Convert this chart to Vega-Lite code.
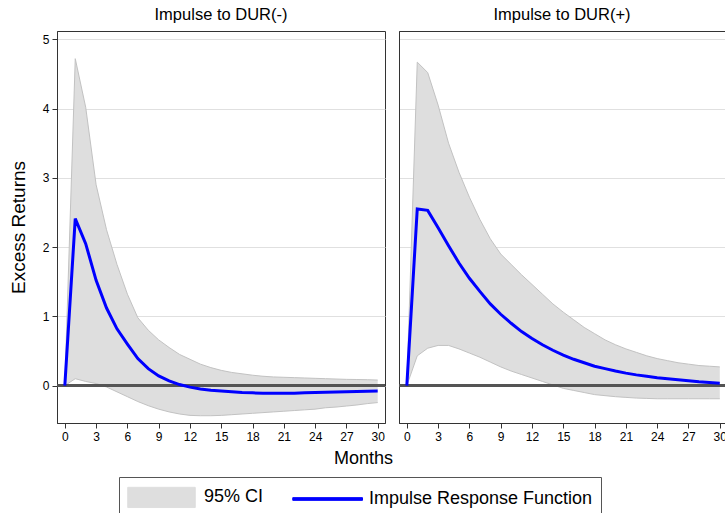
{
  "$schema": "https://vega.github.io/schema/vega-lite/v6.json",
  "padding": {"left": 8, "top": 6, "right": 1, "bottom": 0},
  "bounds": "flush",
  "config": {
    "font": "Liberation Sans",
    "view": {"stroke": "#333333", "strokeWidth": 1},
    "axis": {
      "domainColor": "#333333", "tickColor": "#333333", "tickSize": 5,
      "labelFontSize": 12, "labelColor": "#000000", "labelPadding": 3,
      "labelOverlap": false, "labelFlush": false, "format": "d",
      "titleFontSize": 18, "titleFontWeight": "normal", "titleColor": "#000000",
      "gridColor": "#e0e0e0", "gridWidth": 1
    },
    "legend": {
      "title": null, "orient": "none", "direction": "horizontal",
      "legendX": 62, "legendY": 446,
      "strokeColor": "#555555", "fillColor": "#ffffff", "padding": 8,
      "labelFontSize": 18, "labelColor": "#000000", "labelOffset": 53, "labelLimit": 400,
      "columnPadding": 26, "symbolSize": 506, "symbolOpacity": 1, "symbolStrokeWidth": 1,
      "symbolType": {"expr": "datum.value === '95% CI' ? 'M-1,-0.9H5V0.9H-1Z' : 'M-1,-0.12H5.2V0.12H-1Z'"},
      "symbolStrokeColor": {"expr": "datum.value === '95% CI' ? '#bdbdbd' : '#0000ff'"}
    },
    "title": {"fontSize": 16.5, "fontWeight": "normal", "color": "#000000", "offset": 8}
  },
  "datasets": {
    "irf": [
      {"panel": "neg", "m": 0, "irf": 0, "lo": 0, "hi": 0},
      {"panel": "neg", "m": 1, "irf": 2.41, "lo": 0.10, "hi": 4.72},
      {"panel": "neg", "m": 2, "irf": 2.05, "lo": 0.06, "hi": 4.02},
      {"panel": "neg", "m": 3, "irf": 1.52, "lo": 0.03, "hi": 2.9},
      {"panel": "neg", "m": 4, "irf": 1.12, "lo": -0.02, "hi": 2.25},
      {"panel": "neg", "m": 5, "irf": 0.82, "lo": -0.09, "hi": 1.75},
      {"panel": "neg", "m": 6, "irf": 0.60, "lo": -0.16, "hi": 1.32},
      {"panel": "neg", "m": 7, "irf": 0.39, "lo": -0.23, "hi": 0.98},
      {"panel": "neg", "m": 8, "irf": 0.245, "lo": -0.29, "hi": 0.80},
      {"panel": "neg", "m": 9, "irf": 0.14, "lo": -0.34, "hi": 0.66},
      {"panel": "neg", "m": 10, "irf": 0.067, "lo": -0.38, "hi": 0.55},
      {"panel": "neg", "m": 11, "irf": 0.015, "lo": -0.41, "hi": 0.45},
      {"panel": "neg", "m": 12, "irf": -0.022, "lo": -0.43, "hi": 0.38},
      {"panel": "neg", "m": 13, "irf": -0.048, "lo": -0.435, "hi": 0.31},
      {"panel": "neg", "m": 14, "irf": -0.066, "lo": -0.435, "hi": 0.26},
      {"panel": "neg", "m": 15, "irf": -0.079, "lo": -0.43, "hi": 0.22},
      {"panel": "neg", "m": 16, "irf": -0.09, "lo": -0.42, "hi": 0.19},
      {"panel": "neg", "m": 17, "irf": -0.10, "lo": -0.41, "hi": 0.17},
      {"panel": "neg", "m": 18, "irf": -0.105, "lo": -0.40, "hi": 0.15},
      {"panel": "neg", "m": 19, "irf": -0.11, "lo": -0.39, "hi": 0.135},
      {"panel": "neg", "m": 20, "irf": -0.11, "lo": -0.38, "hi": 0.125},
      {"panel": "neg", "m": 21, "irf": -0.11, "lo": -0.37, "hi": 0.12},
      {"panel": "neg", "m": 22, "irf": -0.11, "lo": -0.36, "hi": 0.115},
      {"panel": "neg", "m": 23, "irf": -0.105, "lo": -0.35, "hi": 0.11},
      {"panel": "neg", "m": 24, "irf": -0.10, "lo": -0.34, "hi": 0.105},
      {"panel": "neg", "m": 25, "irf": -0.097, "lo": -0.32, "hi": 0.10},
      {"panel": "neg", "m": 26, "irf": -0.094, "lo": -0.31, "hi": 0.095},
      {"panel": "neg", "m": 27, "irf": -0.09, "lo": -0.295, "hi": 0.09},
      {"panel": "neg", "m": 28, "irf": -0.085, "lo": -0.28, "hi": 0.088},
      {"panel": "neg", "m": 29, "irf": -0.08, "lo": -0.26, "hi": 0.085},
      {"panel": "neg", "m": 30, "irf": -0.077, "lo": -0.245, "hi": 0.08},
      {"panel": "pos", "m": 0, "irf": 0, "lo": 0, "hi": 0},
      {"panel": "pos", "m": 1, "irf": 2.55, "lo": 0.43, "hi": 4.67},
      {"panel": "pos", "m": 2, "irf": 2.53, "lo": 0.54, "hi": 4.52},
      {"panel": "pos", "m": 3, "irf": 2.28, "lo": 0.58, "hi": 4.05},
      {"panel": "pos", "m": 4, "irf": 2.02, "lo": 0.58, "hi": 3.5},
      {"panel": "pos", "m": 5, "irf": 1.77, "lo": 0.53, "hi": 3.08},
      {"panel": "pos", "m": 6, "irf": 1.55, "lo": 0.47, "hi": 2.72},
      {"panel": "pos", "m": 7, "irf": 1.36, "lo": 0.41, "hi": 2.4},
      {"panel": "pos", "m": 8, "irf": 1.18, "lo": 0.34, "hi": 2.12},
      {"panel": "pos", "m": 9, "irf": 1.03, "lo": 0.27, "hi": 1.9},
      {"panel": "pos", "m": 10, "irf": 0.9, "lo": 0.21, "hi": 1.75},
      {"panel": "pos", "m": 11, "irf": 0.78, "lo": 0.16, "hi": 1.6},
      {"panel": "pos", "m": 12, "irf": 0.68, "lo": 0.11, "hi": 1.46},
      {"panel": "pos", "m": 13, "irf": 0.59, "lo": 0.06, "hi": 1.32},
      {"panel": "pos", "m": 14, "irf": 0.51, "lo": 0.01, "hi": 1.18},
      {"panel": "pos", "m": 15, "irf": 0.44, "lo": -0.04, "hi": 1.06},
      {"panel": "pos", "m": 16, "irf": 0.38, "lo": -0.07, "hi": 0.95},
      {"panel": "pos", "m": 17, "irf": 0.33, "lo": -0.10, "hi": 0.84},
      {"panel": "pos", "m": 18, "irf": 0.28, "lo": -0.13, "hi": 0.75},
      {"panel": "pos", "m": 19, "irf": 0.245, "lo": -0.145, "hi": 0.66},
      {"panel": "pos", "m": 20, "irf": 0.21, "lo": -0.16, "hi": 0.59},
      {"panel": "pos", "m": 21, "irf": 0.18, "lo": -0.17, "hi": 0.53},
      {"panel": "pos", "m": 22, "irf": 0.155, "lo": -0.18, "hi": 0.48},
      {"panel": "pos", "m": 23, "irf": 0.135, "lo": -0.185, "hi": 0.43},
      {"panel": "pos", "m": 24, "irf": 0.115, "lo": -0.19, "hi": 0.39},
      {"panel": "pos", "m": 25, "irf": 0.10, "lo": -0.19, "hi": 0.36},
      {"panel": "pos", "m": 26, "irf": 0.085, "lo": -0.19, "hi": 0.33},
      {"panel": "pos", "m": 27, "irf": 0.07, "lo": -0.19, "hi": 0.31},
      {"panel": "pos", "m": 28, "irf": 0.055, "lo": -0.19, "hi": 0.29},
      {"panel": "pos", "m": 29, "irf": 0.045, "lo": -0.19, "hi": 0.28},
      {"panel": "pos", "m": 30, "irf": 0.035, "lo": -0.19, "hi": 0.27}
    ]
  },
  "spacing": 14,
  "resolve": {"scale": {"color": "shared"}, "legend": {"color": "shared"}},
  "hconcat": [
    {
      "width": 328, "height": 392,
      "title": {"text": "Impulse to DUR(-)"},
      "data": {"name": "irf"},
      "transform": [{"filter": "datum.panel === 'neg'"}],
      "layer": [
        {
          "mark": {"type": "area"},
          "encoding": {
            "x": {"field": "m", "type": "quantitative", "scale": {"domain": [-0.75, 30.7], "nice": false, "zero": false},
                  "axis": {"values": [0, 3, 6, 9, 12, 15, 18, 21, 24, 27, 30], "labelOverlap": false, "grid": false, "title": "Months", "titleX": 306, "titlePadding": 7}},
            "y": {"field": "lo", "type": "quantitative", "scale": {"domain": [-0.54, 5.12], "nice": false, "zero": false},
                  "axis": {"values": [0, 1, 2, 3, 4, 5], "grid": true, "title": "Excess Returns", "titlePadding": 14, "titleFontSize": 19}},
            "y2": {"field": "hi"},
            "color": {
              "datum": "95% CI",
              "scale": {"domain": ["95% CI", "Impulse Response Function"], "range": ["#dedede", "#0000ff"]}
            }
          }
        },
        {
          "mark": {"type": "line", "stroke": "#c2c2c2", "strokeWidth": 1},
          "encoding": {
            "x": {"field": "m", "type": "quantitative", "axis": {"values": [0, 3, 6, 9, 12, 15, 18, 21, 24, 27, 30], "labelOverlap": false, "grid": false, "title": "Months", "titleX": 306, "titlePadding": 7}},
            "y": {"field": "lo", "type": "quantitative"}
          }
        },
        {
          "mark": {"type": "line", "stroke": "#c2c2c2", "strokeWidth": 1},
          "encoding": {
            "x": {"field": "m", "type": "quantitative", "axis": {"values": [0, 3, 6, 9, 12, 15, 18, 21, 24, 27, 30], "labelOverlap": false, "grid": false, "title": "Months", "titleX": 306, "titlePadding": 7}},
            "y": {"field": "hi", "type": "quantitative"}
          }
        },
        {
          "mark": {"type": "rule", "color": "#555555", "strokeWidth": 1.5},
          "encoding": {"y": {"datum": 0}}
        },
        {
          "mark": {"type": "line", "strokeWidth": 3},
          "encoding": {
            "x": {"field": "m", "type": "quantitative", "axis": {"values": [0, 3, 6, 9, 12, 15, 18, 21, 24, 27, 30], "labelOverlap": false, "grid": false, "title": "Months", "titleX": 306, "titlePadding": 7}},
            "y": {"field": "irf", "type": "quantitative"},
            "color": {"datum": "Impulse Response Function"}
          }
        }
      ]
    },
    {
      "width": 326, "height": 392,
      "title": {"text": "Impulse to DUR(+)"},
      "data": {"name": "irf"},
      "transform": [{"filter": "datum.panel === 'pos'"}],
      "layer": [
        {
          "mark": {"type": "area"},
          "encoding": {
            "x": {"field": "m", "type": "quantitative", "scale": {"domain": [-0.75, 30.5], "nice": false, "zero": false},
                  "axis": {"values": [0, 3, 6, 9, 12, 15, 18, 21, 24, 27, 30], "labelOverlap": false, "grid": false, "title": null}},
            "y": {"field": "lo", "type": "quantitative", "scale": {"domain": [-0.54, 5.12], "nice": false, "zero": false},
                  "axis": {"values": [0, 1, 2, 3, 4, 5], "grid": true, "title": null, "labels": false, "ticks": false}},
            "y2": {"field": "hi"},
            "color": {"datum": "95% CI"}
          }
        },
        {
          "mark": {"type": "line", "stroke": "#c2c2c2", "strokeWidth": 1},
          "encoding": {
            "x": {"field": "m", "type": "quantitative", "axis": {"values": [0, 3, 6, 9, 12, 15, 18, 21, 24, 27, 30], "labelOverlap": false, "grid": false, "title": null}},
            "y": {"field": "lo", "type": "quantitative"}
          }
        },
        {
          "mark": {"type": "line", "stroke": "#c2c2c2", "strokeWidth": 1},
          "encoding": {
            "x": {"field": "m", "type": "quantitative", "axis": {"values": [0, 3, 6, 9, 12, 15, 18, 21, 24, 27, 30], "labelOverlap": false, "grid": false, "title": null}},
            "y": {"field": "hi", "type": "quantitative"}
          }
        },
        {
          "mark": {"type": "rule", "color": "#555555", "strokeWidth": 1.5},
          "encoding": {"y": {"datum": 0}}
        },
        {
          "mark": {"type": "line", "strokeWidth": 3},
          "encoding": {
            "x": {"field": "m", "type": "quantitative", "axis": {"values": [0, 3, 6, 9, 12, 15, 18, 21, 24, 27, 30], "labelOverlap": false, "grid": false, "title": null}},
            "y": {"field": "irf", "type": "quantitative"},
            "color": {"datum": "Impulse Response Function"}
          }
        }
      ]
    }
  ]
}
